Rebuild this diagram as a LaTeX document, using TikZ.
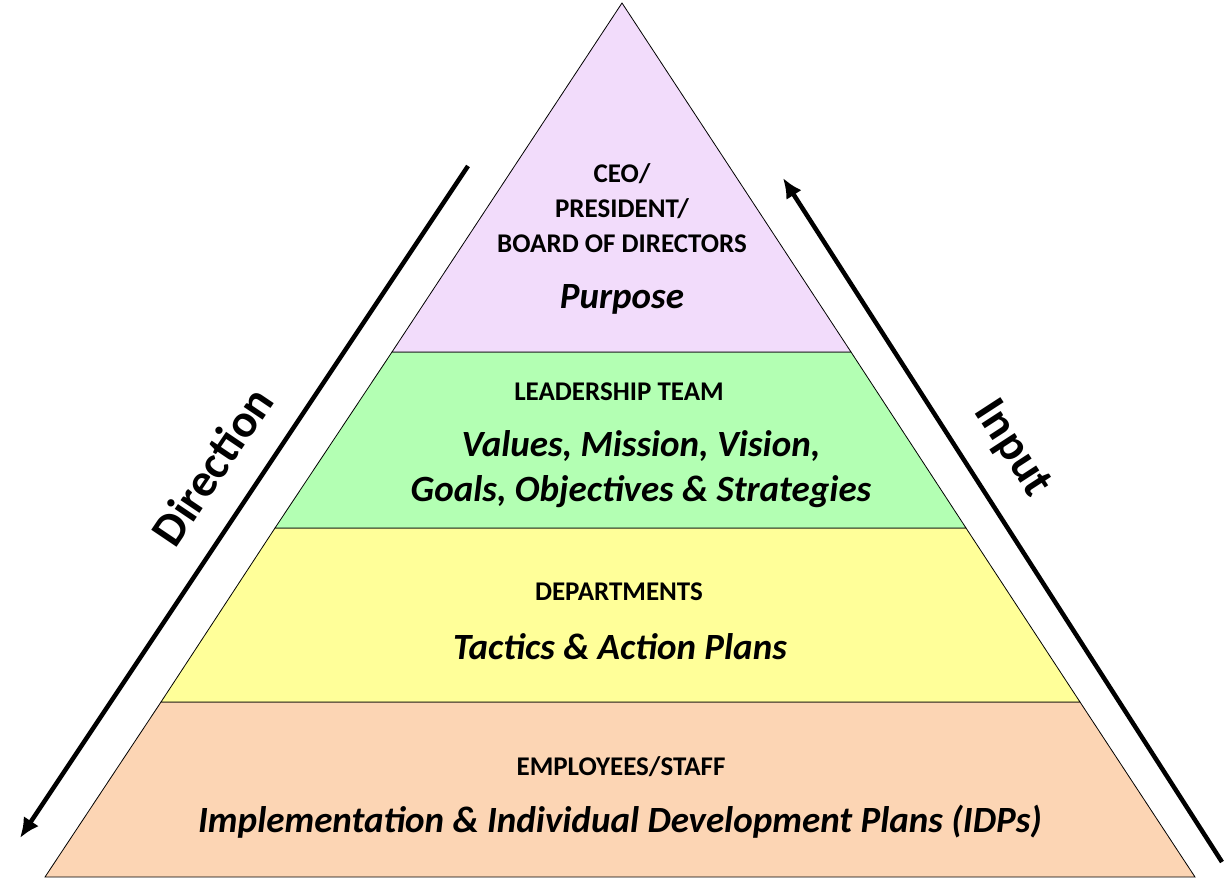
\documentclass[tikz,border=0pt]{standalone}
\usepackage{fontspec}
\setmainfont{Carlito}
\usetikzlibrary{arrows.meta}
\begin{document}
\begin{tikzpicture}[x=1pt,y=-1pt,
  captext/.style={font=\fontsize{27}{35}\selectfont\bfseries, align=center},
  bigtext/.style={font=\fontsize{37}{45}\selectfont\bfseries\itshape, align=center},
  sidetext/.style={font=\fontsize{47}{50}\selectfont\bfseries, inner sep=0pt},
  band/.style={draw=black, line width=0.8pt}]
\useasboundingbox (0,0) rectangle (1229,880);
\fill[white] (0,0) rectangle (1229,880);
\filldraw[band, fill={rgb,255:red,252;green,213;blue,180}] (45,877) -- (161,702) -- (1080,702) -- (1195,877) -- cycle;
\filldraw[band, fill={rgb,255:red,255;green,255;blue,153}] (161,702) -- (275,528) -- (966,528) -- (1080,702) -- cycle;
\filldraw[band, fill={rgb,255:red,179;green,255;blue,179}] (275,528) -- (392,352) -- (851,352) -- (966,528) -- cycle;
\filldraw[band, fill={rgb,255:red,242;green,220;blue,251}] (392,352) -- (622,3) -- (851,352) -- cycle;
\node[captext] (t1) at (622,208) {CEO/\\PRESIDENT/\\BOARD OF DIRECTORS};
\node[bigtext] (p1) at (622,299) {Purpose};
\node[captext] (t2) at (619,392) {LEADERSHIP TEAM};
\node[bigtext] (p2) at (641,469) {Values, Mission, Vision,\\Goals, Objectives \& Strategies};
\node[captext] (t3) at (619,592) {DEPARTMENTS};
\node[bigtext] (p3) at (620,647) {Tactics \& Action Plans};
\node[captext] (t4) at (621,767) {EMPLOYEES/STAFF};
\node[bigtext] (p4) at (620,822) {Implementation \& Individual Development Plans (IDPs)};
\coordinate (d1) at (468,166); \coordinate (d2) at (20,838);
\coordinate (i1) at (1222,862); \coordinate (i2) at (783,178);
\draw[line width=4.5pt, -{Latex[length=20pt,width=18pt]}] (d1) -- (d2);
\draw[line width=4.5pt, -{Latex[length=20pt,width=18pt]}] (i1) -- (i2);
\node[sidetext, rotate=56] (dl) at (212,466) {Direction};
\node[sidetext, rotate=-57] (il) at (1012,449) {Input};
\end{tikzpicture}
\end{document}
